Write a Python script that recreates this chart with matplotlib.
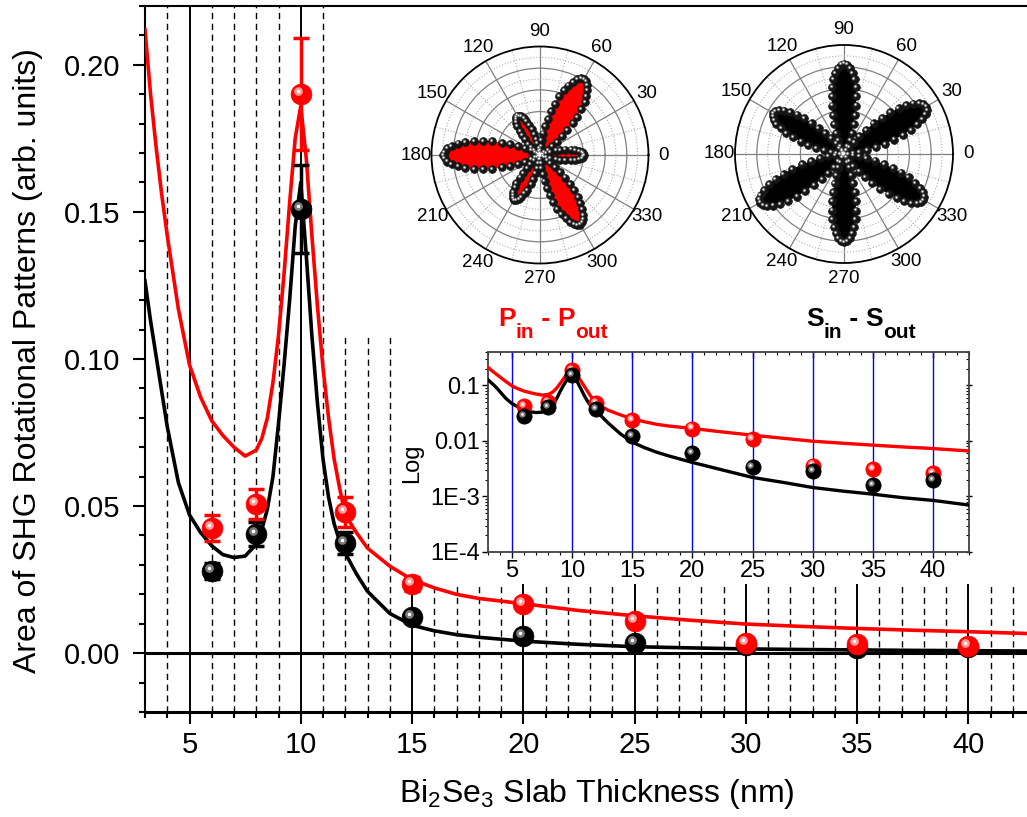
import numpy as np
import matplotlib
matplotlib.use('Agg')
import matplotlib.pyplot as plt
from matplotlib.ticker import MultipleLocator, FixedLocator, FormatStrFormatter, NullFormatter
from matplotlib.transforms import offset_copy

plt.rcParams['font.family'] = ['Liberation Sans', 'DejaVu Sans']
plt.rcParams['mathtext.fontset'] = 'custom'
plt.rcParams['mathtext.rm'] = 'Liberation Sans'
plt.rcParams['mathtext.bf'] = 'Liberation Sans:bold'
plt.rcParams['mathtext.it'] = 'Liberation Sans:italic'

# measured SHG areas vs slab thickness
thickness = [6, 8, 10, 12, 15, 20, 25, 30, 35, 40]
area_p = [0.0425, 0.0507, 0.190, 0.048, 0.0235, 0.0167, 0.0108, 0.0036, 0.0031, 0.0026]
err_p = [0.0045, 0.005, 0.019, 0.005, 0.0024, 0.0017, 0.0011, 0.0004, 0.0003, 0.0003]
area_s = [0.0279, 0.0405, 0.151, 0.0374, 0.0122, 0.0060, 0.0034, 0.0029, 0.0016, 0.0020]
err_s = [0.0028, 0.004, 0.015, 0.0037, 0.0012, 0.0006, 0.0004, 0.0003, 0.0002, 0.0002]

# fitted curves
fit_x = [3.0, 3.25, 3.5, 3.75, 4.0, 4.5, 5.0, 5.5, 6.0, 6.5, 7.0, 7.5, 8.0, 8.25, 8.5, 8.75,
         9.0, 9.25, 9.5, 9.75, 10.0, 10.25, 10.5, 10.75, 11.0, 11.25, 11.5, 11.75, 12.0, 12.5,
         13.0, 14.0, 15.0, 16.0, 17.0, 18.0, 20.0, 22.5, 25.0, 27.5, 30.0, 32.5, 35.0, 37.5,
         40.0, 43.0]
fit_p = [0.212, 0.190, 0.172, 0.156, 0.142, 0.117, 0.098, 0.087, 0.079, 0.074, 0.070, 0.067,
         0.069, 0.073, 0.080, 0.092, 0.108, 0.129, 0.153, 0.175, 0.186, 0.168, 0.142, 0.118,
         0.097, 0.080, 0.066, 0.056, 0.047, 0.041, 0.0357, 0.0296, 0.025, 0.0222, 0.020,
         0.0186, 0.0168, 0.0145, 0.0127, 0.0112, 0.0099, 0.0091, 0.0084, 0.0078, 0.0073, 0.0066]
fit_s = [0.1265, 0.113, 0.101, 0.089, 0.077, 0.058, 0.047, 0.041, 0.0365, 0.0335, 0.0325,
         0.033, 0.037, 0.042, 0.049, 0.060, 0.078, 0.098, 0.120, 0.145, 0.160, 0.135, 0.108,
         0.085, 0.066, 0.053, 0.044, 0.038, 0.034, 0.027, 0.021, 0.0135, 0.0095, 0.0076,
         0.0063, 0.0054, 0.0041, 0.0030, 0.0022, 0.0018, 0.00145, 0.00125, 0.0011, 0.00095,
         0.00085, 0.0007]

# rotational patterns, one value every 2 degrees
angle_deg = np.arange(0, 360, 2)
polar_p = [0.41, 0.40, 0.39, 0.36, 0.33, 0.29, 0.24, 0.19, 0.15, 0.10, 0.064, 0.033, 0.011, 0.001,
           0.002, 0.018, 0.045, 0.085, 0.14, 0.20, 0.27, 0.34, 0.42, 0.49, 0.57, 0.64, 0.69,
           0.74, 0.78, 0.80, 0.81, 0.80, 0.78, 0.74, 0.69, 0.64, 0.57, 0.49, 0.42, 0.34, 0.27,
           0.20, 0.14, 0.085, 0.045, 0.018, 0.002,
           0.001, 0.012, 0.034, 0.066, 0.11, 0.15, 0.20, 0.25, 0.29, 0.34, 0.37, 0.40, 0.41,
           0.42, 0.41, 0.40, 0.37, 0.34, 0.29, 0.25, 0.20, 0.15, 0.11, 0.066, 0.034, 0.012, 0.001,
           0.003, 0.020, 0.050, 0.093, 0.15, 0.22, 0.29, 0.37, 0.46, 0.54, 0.62, 0.70, 0.76,
           0.82, 0.86, 0.88, 0.89, 0.88, 0.86, 0.82, 0.76, 0.70, 0.62, 0.54, 0.46, 0.37, 0.29,
           0.22, 0.15, 0.093, 0.050, 0.020, 0.003,
           0.001, 0.013, 0.038, 0.075, 0.12, 0.17, 0.23, 0.28, 0.34, 0.38, 0.42, 0.45, 0.47,
           0.48, 0.47, 0.45, 0.42, 0.38, 0.34, 0.28, 0.23, 0.17, 0.12, 0.075, 0.038, 0.013, 0.001,
           0.002, 0.016, 0.041, 0.078, 0.12, 0.18, 0.24, 0.31, 0.38, 0.45, 0.52, 0.58, 0.63,
           0.68, 0.71, 0.73, 0.74, 0.73, 0.71, 0.68, 0.63, 0.58, 0.52, 0.45, 0.38, 0.31, 0.24,
           0.18, 0.12, 0.078, 0.041, 0.016, 0.002,
           0.001, 0.011, 0.033, 0.064, 0.10, 0.15, 0.19, 0.24, 0.29, 0.33, 0.36, 0.39, 0.40]
polar_s = [0.0, 0.0095, 0.038, 0.083, 0.144, 0.218, 0.301, 0.390, 0.480, 0.569, 0.653, 0.726,
           0.787, 0.832, 0.860, 0.87, 0.860, 0.832, 0.787, 0.726, 0.653, 0.569, 0.480, 0.390,
           0.301, 0.218, 0.144, 0.083, 0.038, 0.0095,
           0.0, 0.0091, 0.036, 0.079, 0.137, 0.208, 0.287, 0.372, 0.458, 0.543, 0.623, 0.693,
           0.751, 0.794, 0.821, 0.83, 0.821, 0.794, 0.751, 0.693, 0.623, 0.543, 0.458, 0.372,
           0.287, 0.208, 0.137, 0.079, 0.036, 0.0091,
           0.0, 0.0082, 0.032, 0.072, 0.124, 0.188, 0.259, 0.336, 0.414, 0.491, 0.563, 0.626,
           0.678, 0.718, 0.742, 0.75, 0.742, 0.718, 0.678, 0.626, 0.563, 0.491, 0.414, 0.336,
           0.259, 0.188, 0.124, 0.072, 0.032, 0.0082,
           0.0, 0.0097, 0.038, 0.085, 0.147, 0.223, 0.307, 0.398, 0.492, 0.583, 0.668, 0.743,
           0.805, 0.852, 0.880, 0.89, 0.880, 0.852, 0.805, 0.743, 0.668, 0.583, 0.492, 0.398,
           0.307, 0.223, 0.147, 0.085, 0.038, 0.0097,
           0.0, 0.0089, 0.035, 0.077, 0.134, 0.203, 0.280, 0.363, 0.447, 0.530, 0.608, 0.676,
           0.733, 0.775, 0.801, 0.81, 0.801, 0.775, 0.733, 0.676, 0.608, 0.530, 0.447, 0.363,
           0.280, 0.203, 0.134, 0.077, 0.035, 0.0089,
           0.0, 0.0092, 0.036, 0.080, 0.139, 0.210, 0.290, 0.376, 0.464, 0.550, 0.630, 0.701,
           0.760, 0.804, 0.831, 0.84, 0.831, 0.804, 0.760, 0.701, 0.630, 0.550, 0.464, 0.376,
           0.290, 0.210, 0.139, 0.080, 0.036, 0.0092]

W, H = 1027.0, 817.0
fig = plt.figure(figsize=(W / 100, H / 100), dpi=100)


def sphere(a, x, y, ms, base, mid, z, hl=0.42, dot=0.17):
    # shaded ball: base disc + offset highlight
    a.plot(x, y, 'o', ls='none', ms=ms, color=base, mec=base, mew=0.5, zorder=z)
    tr = offset_copy(a.transData, fig=fig, x=-0.14 * ms, y=0.14 * ms, units='points')
    a.plot(x, y, 'o', ls='none', ms=hl * ms, color=mid, mec='none', transform=tr, zorder=z + 0.1)
    a.plot(x, y, 'o', ls='none', ms=dot * ms, color='white', mec='none', transform=tr, zorder=z + 0.2)


# ---- main axes
ax = fig.add_axes([145 / W, 105 / H, 890 / W, 706 / H])
ax.set_xlim(3, 43)
ax.set_ylim(-0.02, 0.22)

for xv in range(4, 43):
    major = xv % 5 == 0
    if xv <= 11:
        top = 0.22
    elif xv <= 14:
        top = 0.1085
    else:
        top = 0.0235
    if major:
        ax.vlines(xv, -0.02, top, colors='k', lw=1.4, zorder=1)
    else:
        ax.vlines(xv, -0.02, top, colors='k', lw=1.0, linestyles=(0, (4.5, 3.3)), zorder=1)
ax.axhline(0, color='k', lw=2.2, zorder=2)

ax.plot(fit_x, fit_s, color='k', lw=2.6, zorder=3)
ax.plot(fit_x, fit_p, color='#ff0000', lw=2.6, zorder=3.1)
ax.errorbar(thickness, area_s, yerr=err_s, fmt='none', ecolor='k', elinewidth=2.5,
            capsize=6, capthick=2.5, zorder=4)
sphere(ax, thickness, area_s, 15, '#000000', '#7a7a7a', 5)
ax.errorbar(thickness, area_p, yerr=err_p, fmt='none', ecolor='#ff0000', elinewidth=2.5,
            capsize=6, capthick=2.5, zorder=6)
sphere(ax, thickness, area_p, 15, '#ff0000', '#ff9a9a', 7)

ax.xaxis.set_major_locator(MultipleLocator(5))
ax.xaxis.set_minor_locator(MultipleLocator(1))
ax.yaxis.set_major_locator(MultipleLocator(0.05))
ax.yaxis.set_minor_locator(MultipleLocator(0.01))
ax.yaxis.set_major_formatter(FormatStrFormatter('%.2f'))
ax.tick_params(which='major', direction='out', length=8.6, width=1.5, labelsize=21)
ax.tick_params(which='minor', direction='out', length=4.3, width=1.5)
ax.tick_params(axis='x', pad=5)
ax.tick_params(axis='y', pad=9)
ax.spines['right'].set_visible(False)
ax.spines['left'].set_linewidth(1.5)
ax.spines['top'].set_linewidth(1.5)
ax.spines['bottom'].set_linewidth(2.2)

fig.text(28 / W, 1 - 361 / H, 'Area of SHG Rotational Patterns (arb. units)', rotation=90,
         ha='center', va='center', fontsize=23)
fig.text(597 / W, 1 - 802 / H, r'Bi$_\mathregular{2}$Se$_\mathregular{3}$ Slab Thickness (nm)',
         ha='center', va='baseline', fontsize=23)

# ---- log inset
axl = fig.add_axes([488 / W, 1 - 552 / H, 481 / W, 200 / H])
axl.set_yscale('log')
axl.set_xlim(3, 43)
axl.set_ylim(1e-4, 0.4)
axl.xaxis.set_major_locator(MultipleLocator(5))
axl.xaxis.set_minor_locator(MultipleLocator(1))
axl.set_yticks([1e-4, 1e-3, 1e-2, 0.1])
axl.set_yticklabels(['1E-4', '1E-3', '0.01', '0.1'])
axl.grid(axis='x', which='major', color='#0000ff', lw=1.0)
axl.plot(fit_x, fit_p, color='#ff0000', lw=2.4, zorder=3)
axl.plot(fit_x, fit_s, color='k', lw=2.4, zorder=3.1)
sphere(axl, thickness, area_p, 11, '#ff0000', '#ff9a9a', 5)
sphere(axl, thickness, area_s, 11, '#000000', '#7a7a7a', 6)
axl.tick_params(which='major', direction='out', length=4, width=1.0, labelsize=17, pad=2)
axl.tick_params(which='minor', direction='out', length=2.5, width=0.8)
for s in axl.spines.values():
    s.set_linewidth(1.3)
    s.set_color('#404040')
secx = axl.secondary_xaxis('top')
secx.xaxis.set_major_locator(MultipleLocator(5))
secx.xaxis.set_minor_locator(MultipleLocator(1))
secx.xaxis.set_major_formatter(NullFormatter())
secx.tick_params(which='major', direction='in', length=4, width=1.0)
secx.tick_params(which='minor', direction='in', length=2.5, width=0.8)
secx.spines['top'].set_visible(False)
secy = axl.secondary_yaxis('right')
secy.yaxis.set_major_formatter(NullFormatter())
secy.yaxis.set_minor_formatter(NullFormatter())
secy.tick_params(which='major', direction='inout', length=5, width=1.0)
secy.tick_params(which='minor', direction='in', length=2.5, width=0.8)
secy.spines['right'].set_visible(False)
fig.text(412 / W, 1 - 463 / H, 'Log', rotation=90, ha='center', va='center', fontsize=17)


# ---- polar insets
def polar_inset(cx, cy, rad, r_vals, fill_color):
    axp = fig.add_axes([(cx - rad) / W, 1 - (cy + rad) / H, 2 * rad / W, 2 * rad / H],
                       projection='polar')
    th = np.deg2rad(angle_deg)
    axp.fill(th, r_vals, color=fill_color, lw=0, zorder=2)
    sphere(axp, th, r_vals, 5.6, '#151515', '#707070', 3, hl=0.45, dot=0.2)
    axp.set_ylim(0, 1)
    axp.set_yticks([0.2, 0.4, 0.6, 0.8])
    axp.set_yticklabels([])
    axp.yaxis.set_minor_locator(FixedLocator([0.1, 0.3, 0.5, 0.7, 0.9]))
    axp.set_xticks(np.deg2rad(np.arange(0, 360, 30)))
    axp.set_xticklabels([str(a) for a in range(0, 360, 30)])
    axp.xaxis.set_minor_locator(FixedLocator(np.deg2rad(np.arange(15, 360, 30))))
    axp.grid(which='major', color='#808080', lw=0.9, ls='-')
    axp.grid(which='minor', color='#b0b0b0', lw=0.8, ls=':')
    axp.tick_params(which='both', length=0)
    axp.tick_params(axis='x', labelsize=13.5, pad=4)
    axp.spines['polar'].set_linewidth(1.3)
    return axp


polar_inset(540, 155, 108.5, polar_p, '#ff0000')
polar_inset(844, 154, 109, polar_s, '#000000')


def rich_label(xc, y_base, parts, color):
    # bold label with lowered subscripts, centred at xc (pixels), baseline y_base (pixels from top)
    r = fig.canvas.get_renderer()
    items = []
    total = 0.0
    for s, fs, dy in parts:
        t = fig.text(0, 0, s, fontsize=fs, fontweight='bold', color=color,
                     ha='left', va='baseline')
        w = t.get_window_extent(renderer=r).width
        items.append((t, w, dy))
        total += w
    x = xc - total / 2
    for t, w, dy in items:
        t.set_position((x / W, (H - y_base - dy) / H))
        x += w


rich_label(553, 326, [('P', 19, 0), ('in', 15, 12), (' - ', 19, 0), ('P', 19, 0), ('out', 15, 12)],
           '#ff0000')
rich_label(861, 326, [('S', 19, 0), ('in', 15, 12), (' - ', 19, 0), ('S', 19, 0), ('out', 15, 12)],
           'k')

fig.savefig('out.png', dpi=100)
